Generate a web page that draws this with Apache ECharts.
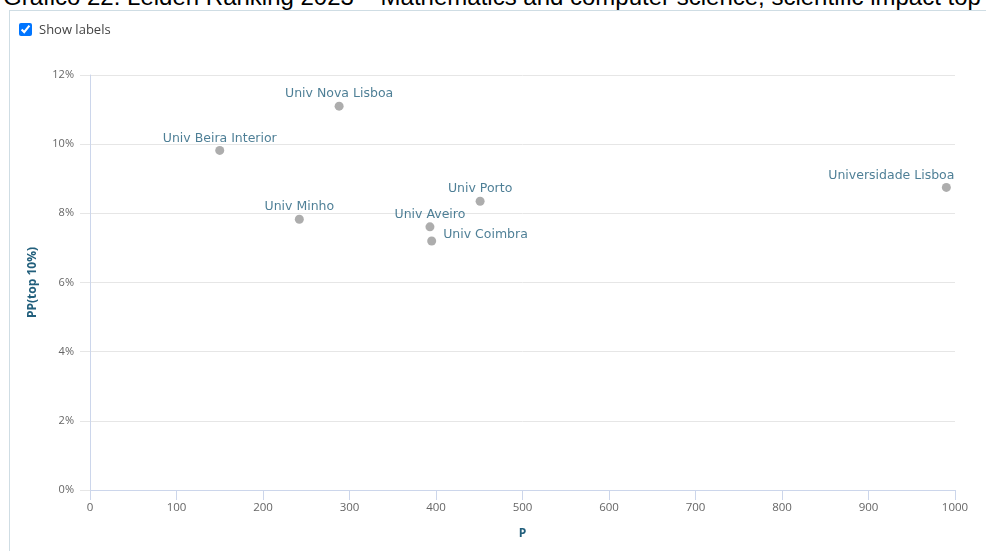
<!DOCTYPE html>
<html>
<head>
<meta charset="utf-8">
<script src="https://cdn.jsdelivr.net/npm/echarts@6/dist/echarts.min.js"></script>
<style>
  html, body { margin: 0; padding: 0; background: #fff; overflow: hidden; }
  #wrap { position: relative; width: 986px; height: 551px; overflow: hidden; }
  #title { position: absolute; left: 3px; top: -17px; white-space: nowrap;
           font-family: "Liberation Sans", Arial, sans-serif; font-size: 24px; color: #000; line-height: 28px; }
  #frame { position: absolute; left: 9px; top: 10px; width: 990px; height: 560px; background: #fff;
           border-left: 1px solid #cfdde4; border-top: 1px solid #cfdde4; }
  #toggle { position: absolute; left: 19px; top: 20px; font-family: "Open Sans", sans-serif;
            font-size: 13px; color: #444; display: flex; align-items: center; }
  #toggle input { margin: 0 7px 0 0; width: 13px; height: 13px; }
  #chart { position: absolute; left: 0; top: 0; width: 986px; height: 551px; }
</style>
</head>
<body>
<div id="wrap">
  <div id="title">Gráfico 22. Leiden Ranking 2023 – Mathematics and computer science, scientific impact top 10%</div>
  <div id="frame"></div>
  <div id="chart"></div>
  <label id="toggle"><input type="checkbox" checked>Show labels</label>
</div>
<script>
// Data
const universities = ["Univ Nova Lisboa", "Univ Beira Interior", "Univ Minho", "Univ Aveiro", "Univ Coimbra", "Univ Porto", "Universidade Lisboa"];
const pValues = [288, 150, 242, 393, 395, 451, 990];
const ppTop10 = [11.10, 9.82, 7.83, 7.61, 7.20, 8.35, 8.75];
const xTicks = { min: 0, max: 1000, interval: 100 };
const yTicks = { min: 0, max: 12, interval: 2 };

const labelColor = '#225f7c';
const labelOverrides = {
  "Univ Coimbra": { position: 'right', distance: 7, offset: [0, -6] },
  "Universidade Lisboa": { position: 'top', offset: [-55, 0] }
};

const data = universities.map((name, i) => {
  const item = { name: name, value: [pValues[i], ppTop10[i]] };
  if (labelOverrides[name]) item.label = labelOverrides[name];
  return item;
});

const chart = echarts.init(document.getElementById('chart'), null, { renderer: 'canvas' });
chart.setOption({
  animation: false,
  grid: { left: 90, right: 31, top: 75, bottom: 61, containLabel: false },
  xAxis: {
    type: 'value', min: xTicks.min, max: xTicks.max, interval: xTicks.interval,
    name: 'P', nameLocation: 'middle', nameGap: 38,
    nameTextStyle: { color: labelColor, fontWeight: 'bold', fontSize: 12, fontFamily: 'Open Sans' },
    axisLine: { show: true, lineStyle: { color: '#ccd6eb' } },
    axisTick: { show: true, length: 10, lineStyle: { color: '#ccd6eb' } },
    axisLabel: { color: '#666', fontSize: 11.5, fontFamily: 'Open Sans', margin: 12, formatter: v => String(v) },
    splitLine: { show: false }
  },
  yAxis: {
    type: 'value', min: yTicks.min, max: yTicks.max, interval: yTicks.interval,
    name: 'PP(top 10%)', nameLocation: 'middle', nameGap: 51, nameRotate: 90,
    nameTextStyle: { color: labelColor, fontWeight: 'bold', fontSize: 12, fontFamily: 'Open Sans' },
    axisLine: { show: true, lineStyle: { color: '#ccd6eb' } },
    axisTick: { show: true, length: 10, lineStyle: { color: '#e6e6e6' } },
    axisLabel: { color: '#666', fontSize: 11, fontFamily: 'Open Sans', margin: 16, formatter: '{value}%' },
    splitLine: { show: true, lineStyle: { color: '#e6e6e6' } }
  },
  series: [{
    type: 'scatter',
    symbol: 'circle',
    symbolSize: 9,
    itemStyle: { color: '#999999' },
    label: {
      show: true, position: 'top', distance: 1,
      formatter: '{b}', color: labelColor, fontSize: 12.5, fontFamily: 'DejaVu Sans'
    },
    data: data
  }]
});
</script>
</body>
</html>
